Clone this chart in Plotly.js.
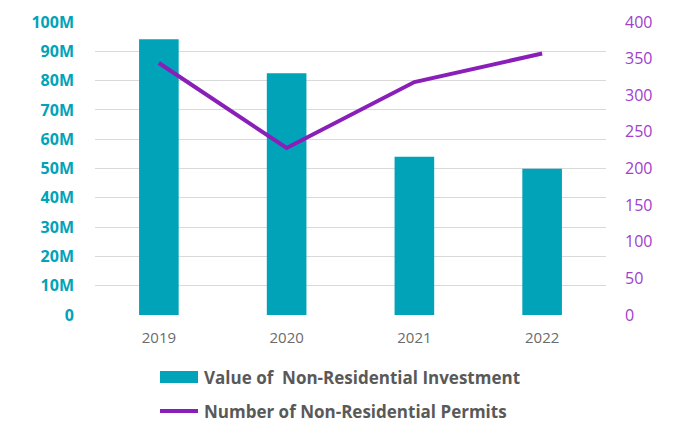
<!DOCTYPE html>
<html>
<head>
<meta charset="utf-8">
<script src="https://cdn.plot.ly/plotly-3.0.1.min.js"></script>
<style>html,body{margin:0;padding:0;background:#fff;}#chart{width:690px;height:423px;}</style>
</head>
<body>
<div id="chart"></div>
<script>
const years = ["2019", "2020", "2021", "2022"];
const investment = [94.1e6, 82.5e6, 54.0e6, 49.9e6];
const permits = [344, 228, 318, 357];
const leftTickVals = [0, 10e6, 20e6, 30e6, 40e6, 50e6, 60e6, 70e6, 80e6, 90e6, 100e6];
const leftTickText = ["0", "10M", "20M", "30M", "40M", "50M", "60M", "70M", "80M", "90M", "100M"];
const rightTickVals = [0, 50, 100, 150, 200, 250, 300, 350, 400];
const seriesNames = ["Value of  Non-Residential Investment", "Number of Non-Residential Permits"];
const barColor = "#00A3B8";
const lineColor = "#8A1EB8";

const traces = [
  {
    type: "bar", x: years, y: investment, name: seriesNames[0],
    marker: {color: barColor}, width: 0.31, hoverinfo: "skip"
  },
  {
    type: "scatter", mode: "lines", x: years, y: permits, yaxis: "y2",
    name: seriesNames[1],
    line: {color: lineColor, width: 4}, hoverinfo: "skip"
  }
];

// custom legend (paper coords: x 0 -> 95px, 1 -> 606px; y 0 -> 315px, 1 -> 22px)
const px = v => (v - 95) / 511;
const py = v => (315 - v) / 293;

const layout = {
  width: 690, height: 423,
  margin: {l: 95, r: 84, t: 22, b: 108},
  paper_bgcolor: "#fff", plot_bgcolor: "#fff",
  font: {family: "Open Sans", color: "#595959"},
  showlegend: false,
  xaxis: {
    type: "category", showgrid: false, zeroline: false, showline: false,
    ticks: "", ticklabelstandoff: 12, tickfont: {size: 15, color: "#6b6b6b"}
  },
  yaxis: {
    range: [0, 100e6], tickvals: leftTickVals, ticktext: leftTickText,
    showgrid: true, gridcolor: "#d9d9d9", gridwidth: 1, zeroline: false,
    ticks: "", ticklabelstandoff: 20,
    tickfont: {size: 16, color: barColor, weight: "bold"}
  },
  yaxis2: {
    overlaying: "y", side: "right", range: [0, 400], tickvals: rightTickVals,
    showgrid: false, zeroline: false, ticks: "", ticklabelstandoff: 18,
    tickfont: {size: 16, color: "#A040CC"}
  },
  bargap: 0.69,
  shapes: [
    {type: "rect", xref: "paper", yref: "paper", x0: px(160), x1: px(198), y0: py(383), y1: py(371),
     fillcolor: barColor, line: {width: 0}},
    {type: "line", xref: "paper", yref: "paper", x0: px(160), x1: px(198), y0: py(411), y1: py(411),
     line: {color: lineColor, width: 4}}
  ],
  annotations: [
    {xref: "paper", yref: "paper", x: px(202), y: py(377), xanchor: "left", yanchor: "middle",
     text: seriesNames[0], showarrow: false,
     font: {family: "Open Sans", size: 17, color: "#595959", weight: "bold"}},
    {xref: "paper", yref: "paper", x: px(202), y: py(411), xanchor: "left", yanchor: "middle",
     text: seriesNames[1], showarrow: false,
     font: {family: "Open Sans", size: 17, color: "#595959", weight: "bold"}}
  ]
};

Plotly.newPlot("chart", traces, layout, {staticPlot: true, displayModeBar: false});
</script>
</body>
</html>
